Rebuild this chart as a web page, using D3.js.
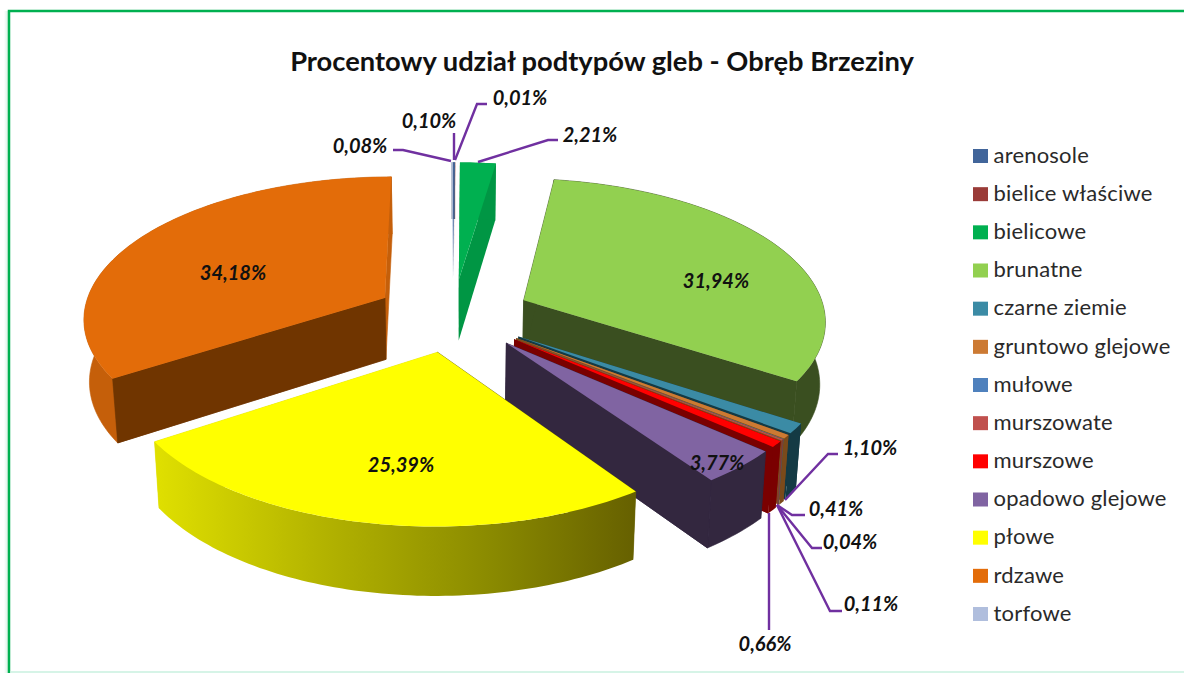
<!DOCTYPE html>
<html><head><meta charset="utf-8">
<script src="https://d3js.org/d3.v7.min.js"></script>
<style>html,body{margin:0;padding:0;background:#fff}svg{display:block}</style>
</head><body><svg id="c" width="1184" height="673"></svg>
<script>
const titleText = "Procentowy udział podtypów gleb - Obręb Brzeziny";
const categories = ["arenosole","bielice właściwe","bielicowe","brunatne","czarne ziemie","gruntowo glejowe","mułowe","murszowate","murszowe","opadowo glejowe","płowe","rdzawe","torfowe"];
const percentValues = [0.10,0.01,2.21,31.94,1.10,0.41,0.04,0.11,0.66,3.77,25.39,34.18,0.08];
const topColors = ["#41659a","#9a3b38","#00b050","#92d050","#3b8ba5","#cc7a33","#4f81bd","#c0504d","#ff0000","#8064a2","#ffff00","#e36c09","#b0bedd"];
const wallColors = ["#2c466b","#6b2927","#009644","#3a4f20","#143a44","#7b4a1a","#375a84","#863836","#7a0000","#33273f","#8f8f00","#703500","#7b8599"];
const labelSpots = [[429,121],[520,98],[590,135],[716,281],[870,448],[836,509],[850,542],[871,604],[765,644],[717,463],[401,465],[233,273],[360,146]];
const leaderKnees = [[[454,160],[454,133]],[[455,160],[477,104],[487,104]],[[478,162],[548,140],[558,140]],null,[[785,500],[828,454],[838,454]],[[777,505],[792,515],[805,515]],[[777,505],[812,548],[822,548]],[[777,505],[830,611],[842,611]],[[769,513],[769,630]],null,null,null,[[451,161],[403,150],[393,150]]];

const svg = d3.select("#c");
const geo = {cx:453, cy:315, f:302, g:141, k:0.13, explode:0.26, depth:62, shrink:0.985, tilt:0.035};

function project(u, v, low) {
  const d = 1 + geo.k * v;
  let x = geo.cx + geo.f * u / d, y = geo.cy - geo.g * v / d;
  if (low) { const y0 = y; x = geo.cx + (x - geo.cx) * geo.shrink; y = y0 + geo.depth + (y0 - geo.cy) * geo.tilt; }
  return [x, y];
}
const pie = d3.pie().sort(null).value(d => d).startAngle(0).endAngle(2 * Math.PI);
const arcs = pie(percentValues).map((a, i) => {
  const mid = (a.startAngle + a.endAngle) / 2;
  return {i, a0:a.startAngle, a1:a.endAngle, mid, ou:Math.sin(mid)*geo.explode, ov:Math.cos(mid)*geo.explode};
});
const line = d3.line();
function rimAngles(s) {
  const n = Math.max(2, Math.ceil((s.a1 - s.a0) / 0.02));
  return d3.range(n + 1).map(j => s.a0 + (s.a1 - s.a0) * j / n);
}
const pt = (s, ang, r, low) => project(s.ou + r * Math.sin(ang), s.ov + r * Math.cos(ang), low);

const defs = svg.append("defs");
const grad = defs.append("linearGradient").attr("id","plowe");
[[0,"#e0e000"],[0.35,"#b3b300"],[0.7,"#8a8a00"],[1,"#666000"]].forEach(([o,c]) => grad.append("stop").attr("offset",o).attr("stop-color",c));
const shade = defs.append("linearGradient").attr("id","edge");
[[0,"#ffffff"],[1,"#d6f0e2"]].forEach(([o,c]) => shade.append("stop").attr("offset",o).attr("stop-color",c));

// frame: strong top and left edges, pale bottom edge, nothing at the right
svg.append("rect").attr("x",4).attr("y",11).attr("width",4).attr("height",662).attr("fill","url(#edge)");
svg.append("path").attr("d",line([[9,673],[9,11],[1184,11]])).attr("fill","none").attr("stroke","#00b050").attr("stroke-width",2.5);
svg.append("path").attr("d",line([[10,672],[1184,672]])).attr("fill","none").attr("stroke","#c8f0df").attr("stroke-width",1.5);

// slices, far to near
const order = arcs.slice().sort((a, b) => Math.cos(b.mid) - Math.cos(a.mid));
const g = svg.append("g");
order.forEach(s => {
  const big = percentValues[s.i] >= 3;
  const solid = (sel, c) => big ? sel.attr("fill", c).attr("stroke", c).attr("stroke-width", 0.6).attr("stroke-linejoin", "round") : sel.attr("fill", c);
  const angs = rimAngles(s);
  const name = categories[s.i];
  const outerFill = name === "rdzawe" ? "#c55f0a" : wallColors[s.i];
  const wall = ang => [pt(s,0,0,false), pt(s,ang,1,false), pt(s,ang,1,true), pt(s,0,0,true)];
  const sg = g.append("g");
  const w0 = wall(s.a0), w1 = wall(s.a1);
  if (percentValues[s.i] >= 0.3) {
    solid(sg.append("path").attr("d", line(w1) + "Z"), name === "płowe" ? "#e0e000" : outerFill);
    solid(sg.append("path").attr("d", line(w0) + "Z"), name === "płowe" ? "#666000" : wallColors[s.i]);
  }
  const top = angs.map(a => pt(s,a,1,false)), bot = angs.map(a => pt(s,a,1,true)).reverse();
  const outer = sg.append("path").attr("d", line(top.concat(bot)) + "Z");
  if (name === "płowe") outer.attr("fill", "url(#plowe)");
  else solid(outer, outerFill);
  if (name === "rdzawe") solid(sg.append("path").attr("d", line(w0) + "Z"), wallColors[s.i]);
  if (name === "opadowo glejowe" || name === "murszowe") solid(sg.append("path").attr("d", line(w1) + "Z"), wallColors[s.i]);
  sg.append("path").attr("d", line([pt(s,0,0,false)].concat(top)) + "Z").attr("fill", topColors[s.i]);
});

// leaders
const fmt = v => v.toFixed(2).replace(".", ",") + "%";
leaderKnees.forEach(pts => { if (pts) svg.append("path").attr("d", line(pts)).attr("fill","none").attr("stroke","#7030a0").attr("stroke-width",2.4); });
// data labels
svg.append("g").selectAll("text").data(percentValues).join("text")
  .attr("x",(d,i)=>labelSpots[i][0]).attr("y",(d,i)=>labelSpots[i][1]).attr("dy","0.35em")
  .attr("text-anchor","middle").attr("font-family","Lato").attr("font-weight",700).attr("font-style","italic")
  .attr("font-size",20).attr("fill","#111").text(fmt);

// title
svg.append("text").attr("x",602).attr("y",71).attr("text-anchor","middle").attr("font-family","Lato")
  .attr("font-weight",700).attr("font-size",27.3).attr("fill","#111").text(titleText);

// legend
const ly = d3.scalePoint().domain(categories).range([156,614]);
const lg = svg.append("g").selectAll("g").data(categories).join("g").attr("transform",d=>`translate(973,${ly(d)})`);
lg.append("rect").attr("y",-7).attr("width",15).attr("height",14).attr("fill",(d,i)=>topColors[i]);
lg.append("text").attr("x",20.5).attr("y",-1).attr("dy","0.35em").attr("font-family","Lato").attr("font-size",22).attr("letter-spacing",0.2).attr("fill","#2a2a2a").text(d=>d);
</script></body></html>
